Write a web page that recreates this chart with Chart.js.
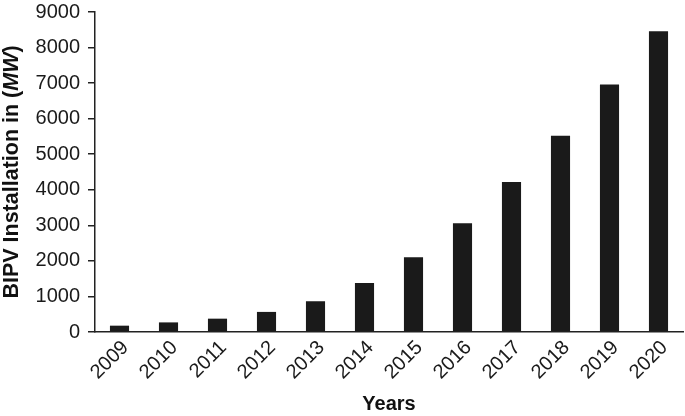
<!DOCTYPE html>
<html>
<head>
<meta charset="utf-8">
<script src="https://cdn.jsdelivr.net/npm/chart.js@4"></script>
<style>
  html, body { margin: 0; padding: 0; background: #fff; }
  #wrap { width: 685px; height: 416px; }
</style>
</head>
<body>
<div id="wrap"><canvas id="bipv"></canvas></div>
<script>
const years = ["2009", "2010", "2011", "2012", "2013", "2014", "2015", "2016", "2017", "2018", "2019", "2020"];
const installedMW = [178, 270, 375, 565, 865, 1375, 2100, 3060, 4220, 5520, 6960, 8460];
const yTicks = [0, 1000, 2000, 3000, 4000, 5000, 6000, 7000, 8000, 9000];

const FONT = "'Liberation Sans', Arial, Helvetica, sans-serif";

// y title has a bold part and an italic "MW", so draw it by hand
const yTitlePlugin = {
  id: "yTitle",
  afterDraw(chart) {
    const ctx = chart.ctx;
    const area = chart.chartArea;
    const parts = [
      { text: "BIPV Installation in (", font: "bold 21.5px " + FONT },
      { text: "MW", font: "italic bold 21.5px " + FONT },
      { text: ")", font: "bold 21.5px " + FONT },
    ];
    let total = 0;
    parts.forEach((p) => {
      ctx.font = p.font;
      p.w = ctx.measureText(p.text).width;
      total += p.w;
    });
    ctx.save();
    ctx.translate(12, (area.top + area.bottom) / 2);
    ctx.rotate(-Math.PI / 2);
    ctx.fillStyle = "#111";
    ctx.textBaseline = "middle";
    ctx.textAlign = "left";
    let x = -total / 2;
    parts.forEach((p) => {
      ctx.font = p.font;
      ctx.fillText(p.text, x, 0);
      x += p.w;
    });
    ctx.restore();
  },
};

new Chart(document.getElementById("bipv"), {
  type: "bar",
  data: {
    labels: years,
    datasets: [
      {
        label: "BIPV",
        data: installedMW,
        backgroundColor: "#1a1a1a",
        borderWidth: 0,
        barPercentage: 0.39,
        categoryPercentage: 1,
      },
    ],
  },
  options: {
    responsive: true,
    maintainAspectRatio: false,
    animation: false,
    layout: { padding: { top: 0, right: 2, left: 0, bottom: 0 } },
    plugins: {
      legend: { display: false },
      tooltip: { enabled: false },
    },
    scales: {
      x: {
        grid: { display: false, drawTicks: false },
        border: { display: true, color: "#222", width: 1.5 },
        ticks: {
          color: "#1a1a1a",
          font: { family: FONT, size: 20 },
          minRotation: 45,
          maxRotation: 45,
          padding: 4,
          labelOffset: 6,
        },
        title: {
          display: true,
          text: "Years",
          color: "#111",
          font: { family: FONT, size: 20, weight: "bold" },
          padding: { top: 0, bottom: 0 },
        },
        afterFit(scale) {
          scale.height = 84;
          scale.paddingLeft = 0;
          scale.paddingRight = 0;
        },
      },
      y: {
        min: 0,
        max: 9000,
        afterBuildTicks(scale) {
          scale.ticks = yTicks.map((v) => ({ value: v }));
        },
        grid: {
          drawOnChartArea: false,
          drawTicks: true,
          tickLength: 7,
          color: "#222",
          lineWidth: 1.5,
        },
        border: { display: true, color: "#222", width: 1.5 },
        ticks: {
          color: "#1a1a1a",
          font: { family: FONT, size: 20 },
          padding: 8,
          callback: (v) => String(v),
        },
        afterFit(scale) {
          scale.width = 95;
          scale.paddingTop = 12;
          scale.paddingBottom = 0;
        },
      },
    },
  },
  plugins: [yTitlePlugin],
});
</script>
</body>
</html>
